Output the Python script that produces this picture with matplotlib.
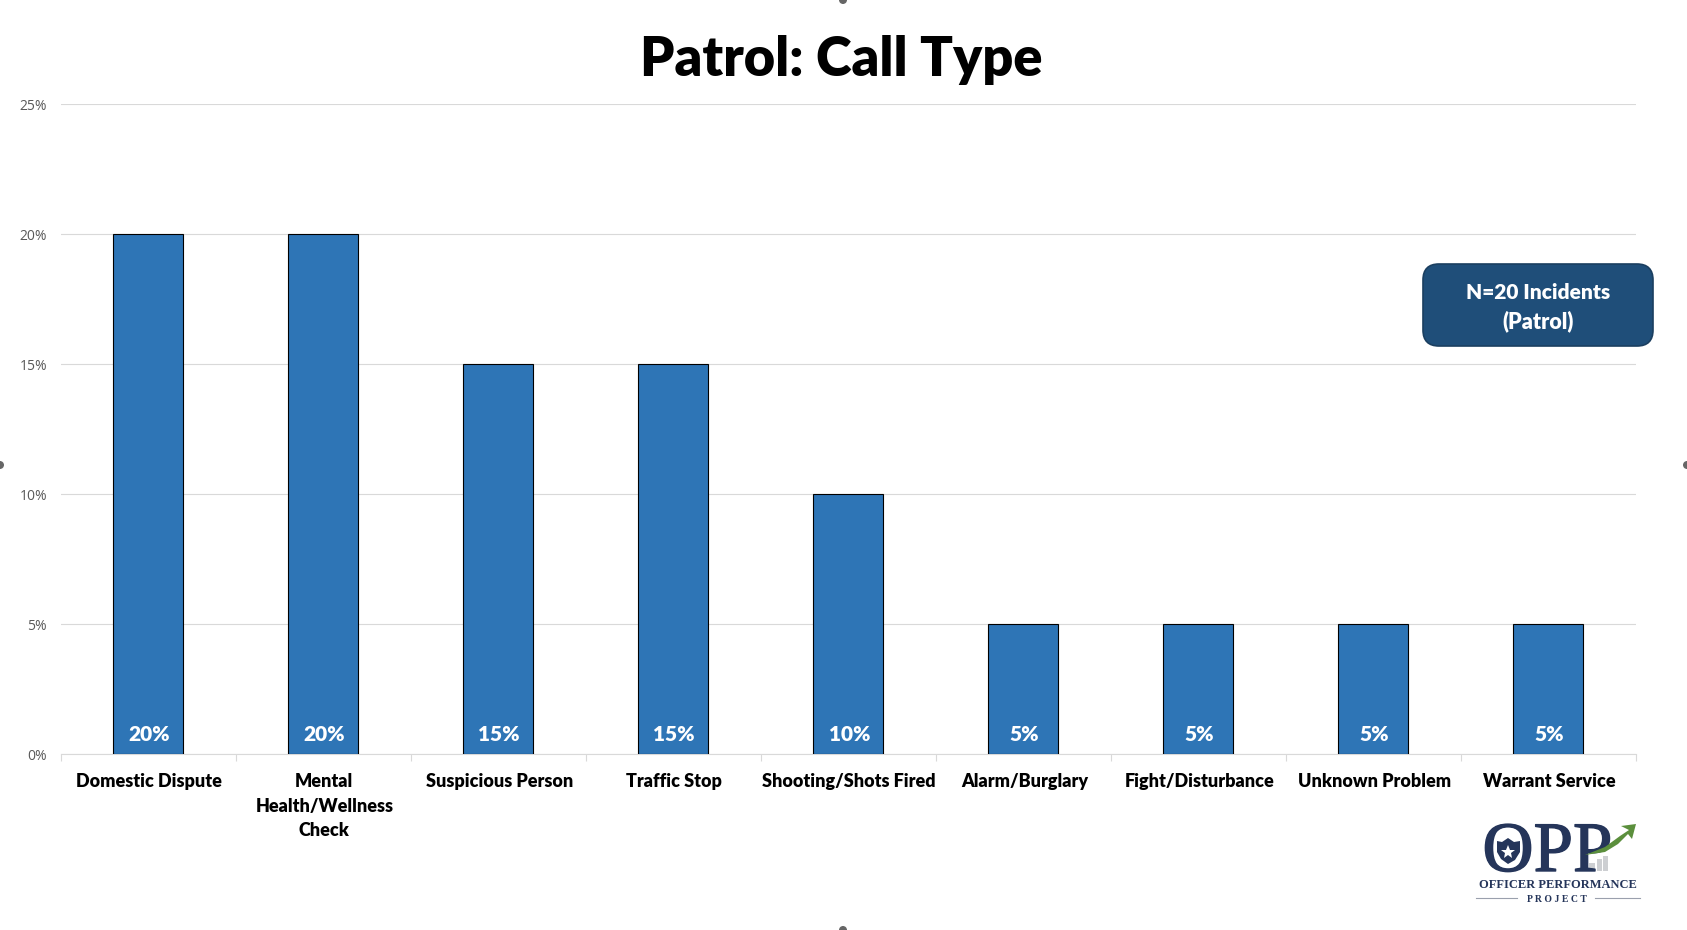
import matplotlib
matplotlib.use("Agg")
import matplotlib.pyplot as plt
import matplotlib.patheffects as pe
from matplotlib.patches import FancyBboxPatch, Polygon, Ellipse

categories = ["Domestic Dispute", "Mental\nHealth/Wellness\nCheck", "Suspicious Person",
              "Traffic Stop", "Shooting/Shots Fired", "Alarm/Burglary",
              "Fight/Disturbance", "Unknown Problem", "Warrant Service"]
values = [20, 20, 15, 15, 10, 5, 5, 5, 5]
y_ticks = [0, 5, 10, 15, 20, 25]

W, H = 1687, 930
font = "Lato"
heavy = 800
navy = "#25355a"
green = "#5B8F3C"

fig = plt.figure(figsize=(W / 100, H / 100), dpi=100)
ax = fig.add_axes([60.8 / W, 1 - 754.3 / H, 1575 / W, (754.3 - 104) / H])

xs = range(len(values))
ax.bar(xs, values, width=0.4, color="#2E75B6", edgecolor="black", linewidth=0.8, zorder=3)
ax.set_xlim(-0.5, len(values) - 0.5)
ax.set_ylim(0, 25)

# value labels sit at the foot of the bars
for x, v in zip(xs, values):
    ax.annotate(f"{v}%", (x, 0), xytext=(1, 20), textcoords="offset pixels", ha="center", va="center",
                color="white", fontsize=15, fontweight=heavy, family=font, zorder=4)

ax.set_yticks(y_ticks)
ax.set_yticklabels([f"{t}%" for t in y_ticks], fontsize=10, color="#595959", family="Open Sans")
ax.tick_params(axis="y", length=0, pad=10)
ax.grid(axis="y", color="#D9D9D9", linewidth=0.8, zorder=0)
ax.set_axisbelow(True)

ax.set_xticks([x + 0.5 for x in range(-1, len(values))])
ax.set_xticklabels([])
ax.tick_params(axis="x", length=5, color="#D9D9D9", width=0.8)
for s in ["top", "left", "right"]:
    ax.spines[s].set_visible(False)
ax.spines["bottom"].set_color("#D9D9D9")
ax.spines["bottom"].set_linewidth(0.8)

for x, c in zip(xs, categories):
    ax.annotate(c, (x, 0), xytext=(1, -19), textcoords="offset pixels", ha="center", va="top",
                fontsize=13, fontweight=heavy, family=font, linespacing=1.53, annotation_clip=False)

fig.text(841 / W, 1 - 60 / H, "Patrol: Call Type", ha="center", va="center",
         fontsize=39, fontweight=heavy, family=font, color="black")

# overlay in pixel coordinates for the callout and logo
ov = fig.add_axes([0, 0, 1, 1], zorder=5)
ov.set_xlim(0, W)
ov.set_ylim(H, 0)
ov.axis("off")

ov.add_patch(FancyBboxPatch((1423, 264), 230, 82, boxstyle="round,pad=0,rounding_size=16",
                            facecolor="#1F4E79", edgecolor="#1B3F60", linewidth=1.2))
ov.text(1538.5, 292, "N=20 Incidents", ha="center", va="center", color="white",
        fontsize=15, fontweight=heavy, family=font)
ov.text(1538.5, 321, "(Patrol)", ha="center", va="center", color="white",
        fontsize=15.5, fontweight=heavy, family=font)

# logo
serif = "Liberation Serif"
stroke = [pe.withStroke(linewidth=1, foreground=navy)]
for bx, bw, top in [(1589, 6, 863), (1597, 5, 859), (1603, 5, 856)]:
    ov.fill_between([bx, bx + bw], 871, top, color="#CDCFD2", linewidth=0, zorder=1)
ov.text(1547.5, 871, "OPP", ha="center", va="baseline", fontsize=51, color=navy, family=serif,
        path_effects=stroke, zorder=2)
ov.add_patch(Polygon([(1497, 841), (1497, 852), (1501, 859), (1508, 864), (1515, 860), (1520, 852), (1520, 841),
                      (1514, 842), (1508, 838), (1502, 842)], closed=True, facecolor=navy, edgecolor="none", zorder=3))
ov.plot([1508.5], [851.5], marker="*", color="white", markersize=10, markeredgewidth=0, zorder=4)
ov.add_patch(Polygon([(1585, 855), (1605, 847), (1620, 836), (1629, 830), (1621, 826),
                      (1636, 824), (1632, 839), (1628, 834), (1618, 844), (1605, 852)],
                     closed=True, facecolor=green, edgecolor="none", zorder=3))
ov.text(1557.5, 885, "OFFICER PERFORMANCE", ha="center", va="center", fontsize=9, color=navy, family=serif,
        fontweight="bold")
ov.text(1557, 899, "P R O J E C T", ha="center", va="center", fontsize=7, color=navy, family=serif,
        fontweight="bold")
ov.plot([1476, 1517], [898, 898], color="#9aa0ad", linewidth=0.8)
ov.plot([1595, 1640], [898, 898], color="#9aa0ad", linewidth=0.8)

# slide-shape handles clipped at the picture edges
for hx, hy in [(843, 0), (843, 930), (0, 465), (W, 465)]:
    ov.add_patch(Ellipse((hx, hy), 8, 8, facecolor="#666666", edgecolor="none"))

fig.savefig("out.png", dpi=100, facecolor="white")
